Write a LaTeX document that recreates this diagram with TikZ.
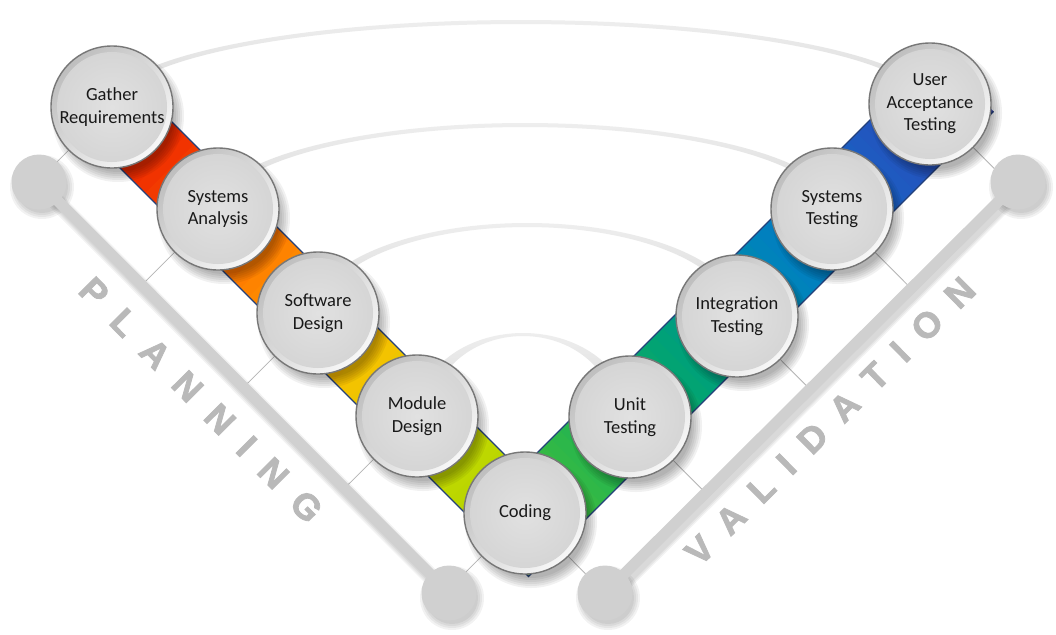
\documentclass[tikz,border=0pt]{standalone}
\usepackage{fontspec}
\setmainfont{Carlito}
\newfontfamily\letterfont{Liberation Sans Bold}[FakeBold=2.2]
\usetikzlibrary{calc}
\definecolor{rimdark}{HTML}{BEBEBE}
\definecolor{rimlight}{HTML}{F8F8F8}
\definecolor{faceA}{HTML}{E1E1E1}
\definecolor{faceB}{HTML}{D4D4D4}
\definecolor{circedge}{HTML}{777777}
\definecolor{railc}{HTML}{D0D0D0}
\definecolor{tickc}{HTML}{B4B4B4}
\definecolor{arcTop}{HTML}{EEEEEE}
\definecolor{arcBot}{HTML}{D8D8D8}
\definecolor{bandedge}{HTML}{24407A}
\definecolor{letterface}{HTML}{B9B9B9}
\definecolor{L0}{HTML}{C41A00}
\definecolor{L1}{HTML}{F03000}
\definecolor{L2}{HTML}{FF8000}
\definecolor{L3}{HTML}{F5C200}
\definecolor{L4}{HTML}{BED800}
\definecolor{L5}{HTML}{A6CC00}
\definecolor{R0}{HTML}{5AC030}
\definecolor{R1}{HTML}{2EB848}
\definecolor{R2}{HTML}{00A275}
\definecolor{R3}{HTML}{0082BE}
\definecolor{R4}{HTML}{2058C0}
\definecolor{R5}{HTML}{3341A6}
\tikzset{
  stage/.style={circle, minimum size=122pt, inner sep=0pt, draw=circedge, line width=1.4pt,
    align=center, text=black!90, font=\fontsize{18.5}{22.5}\selectfont,
    shading=axis, top color=rimdark, bottom color=rimlight, shading angle=45,
    path picture={\shade[inner color=faceA, outer color=faceB] (path picture bounding box.center) circle[radius=55];}},
  railline/.style={line width=11pt, draw=railc},
  railshadow/.style={line width=#1, draw=black, opacity=0.05},
  tickline/.style={draw=tickc, line width=0.8pt},
  bandborder/.style={draw=bandedge, line width=1.1pt, line join=miter},
  letters/.style={font=\letterfont\fontsize{36}{36}\selectfont, inner sep=0pt, text=letterface},
  arcband/.style={top color=arcTop, bottom color=arcBot}
}
\begin{document}
\begin{tikzpicture}[x=1pt,y=-1pt]
\useasboundingbox (0,0) rectangle (1056,634);
\fill[white] (0,0) rectangle (1056,634);

% circle centres
\coordinate (cG) at (112,107);
\coordinate (cSA) at (218,209);
\coordinate (cSD) at (318,313);
\coordinate (cMD) at (417,416);
\coordinate (cCO) at (525,513);
\coordinate (cUT) at (630,417);
\coordinate (cIT) at (737,316);
\coordinate (cST) at (832,209);
\coordinate (cUA) at (930,104);
% rail ends
\coordinate (tl) at (39,182);
\coordinate (bl) at (449,593);
\coordinate (tr) at (1018,182);
\coordinate (br) at (605,593);

% arcs
\foreach \cx/\cy/\rxo/\ryo/\rxi/\ryi in {521/106/414/86/404/82, 525/209/312/86/302/82, 527/314/215/91/205/87, 523/416/106/83/92/80}{
  \shade[arcband] plot[domain=180:0, samples=80] ({\cx+\rxo*cos(\x)},{\cy-\ryo*sin(\x)})
     -- plot[domain=0:180, samples=80] ({\cx+\rxi*cos(\x)},{\cy-\ryi*sin(\x)}) -- cycle;
}

% thin lines from stages to rails
\foreach \c in {cG,cSA,cSD,cMD,cCO}{
  \draw[tickline] (\c) -- ($(tl)!(\c)!(bl)$);
}
\foreach \c in {cCO,cUT,cIT,cST,cUA}{
  \draw[tickline] (\c) -- ($(tr)!(\c)!(br)$);
}

% rail shadows
\foreach \w in {17,14,11}{
  \draw[railshadow=\w pt] ($(tl)+(3,5)$) -- ($(bl)+(3,5)$);
  \draw[railshadow=\w pt] ($(tr)+(3,5)$) -- ($(br)+(3,5)$);
}
\foreach \p in {tl,bl,tr,br}{
  \foreach \r in {32,30,28,26}{
    \fill[black,opacity=0.05] ($(\p)+(3,5)$) circle[radius=\r];
  }
}
% rails
\draw[railline] (tl) -- (bl);
\draw[railline] (tr) -- (br);
\foreach \p in {tl,bl,tr,br}{
  \fill[railc] (\p) circle[radius=27.5];
}

% band corners
\coordinate (bA) at (132.5,82.5);
\coordinate (bB) at (83.5,131.5);
\coordinate (bI) at (520,470);
\coordinate (bO) at (528.5,576.5);
\coordinate (bC) at (936,54);
\coordinate (bD) at (993.5,111.5);

\begin{scope}
\clip (bA) -- (bI) -- (bO) -- (bB) -- cycle;
\foreach \a/\b/\ca/\cb in {215/321/L0/L1, 321/529/L1/L2, 529/732/L2/L3, 732/935/L3/L4, 935/1110/L4/L5}{
  \foreach \i in {1,...,12}{
    \pgfmathsetmacro\s{\a+(\b-\a)*(\i-1)/12}
    \pgfmathsetmacro\e{\a+(\b-\a)*(\i+0.4)/12}
    \pgfmathsetmacro\p{100*(\i-0.5)/12}
    \colorlet{stripe}{\cb!\p!\ca}
    \fill[stripe] ({\s/2-400},{\s/2+400}) -- ({\s/2+400},{\s/2-400}) -- ({\e/2+400},{\e/2-400}) -- ({\e/2-400},{\e/2+400}) -- cycle;
  }
}
\end{scope}
\begin{scope}
\clip (bI) -- (bC) -- (bD) -- (bO) -- cycle;
\foreach \a/\b/\ca/\cb in {50/-112/R0/R1, -112/-317/R1/R2, -317/-522/R2/R3, -522/-724/R3/R4, -724/-885/R4/R5}{
  \foreach \i in {1,...,12}{
    \pgfmathsetmacro\s{\a+(\b-\a)*(\i-1)/12}
    \pgfmathsetmacro\e{\a+(\b-\a)*(\i+0.4)/12}
    \pgfmathsetmacro\p{100*(\i-0.5)/12}
    \colorlet{stripe}{\cb!\p!\ca}
    \fill[stripe] (300,{300+\s}) -- (1100,{1100+\s}) -- (1100,{1100+\e}) -- (300,{300+\e}) -- cycle;
  }
}
\end{scope}
\draw[bandborder] (bA) -- (bI) -- (bC);
\draw[bandborder] (bB) -- (bO) -- (bD);

% circle shadows
\foreach \c in {cG,cSA,cSD,cMD,cCO,cUT,cIT,cST,cUA}{
  \foreach \k in {0,...,5}{
    \fill[black,opacity=0.055] ($(\c)+(6,9)$) circle[radius={66-2*\k}];
  }
}

% stages
\node[stage] (gather) at (cG) {Gather\\Requirements};
\node[stage] (sysan) at (cSA) {Systems\\Analysis};
\node[stage] (swdes) at (cSD) {Software\\Design};
\node[stage] (moddes) at (cMD) {Module\\Design};
\node[stage] (coding) at (cCO) {Coding};
\node[stage] (unit) at (cUT) {Unit\\Testing};
\node[stage] (integ) at (cIT) {Integration\\Testing};
\node[stage] (systest) at (cST) {Systems\\Testing};
\node[stage] (uat) at (cUA) {User\\Acceptance\\Testing};

% side words
\coordinate (planc) at (201,400);
\coordinate (valc) at (830,421);
\node[letters, rotate=-45.3] (planning) at (planc) {P\kern20pt L\kern20pt A\kern20pt N\kern20pt N\kern20pt I\kern20pt N\kern20pt G};
\node[letters, rotate=44.7] (validation) at (valc) {V\kern19pt A\kern19pt L\kern19pt I\kern19pt D\kern19pt A\kern19pt T\kern19pt I\kern19pt O\kern19pt N};
\end{tikzpicture}
\end{document}
